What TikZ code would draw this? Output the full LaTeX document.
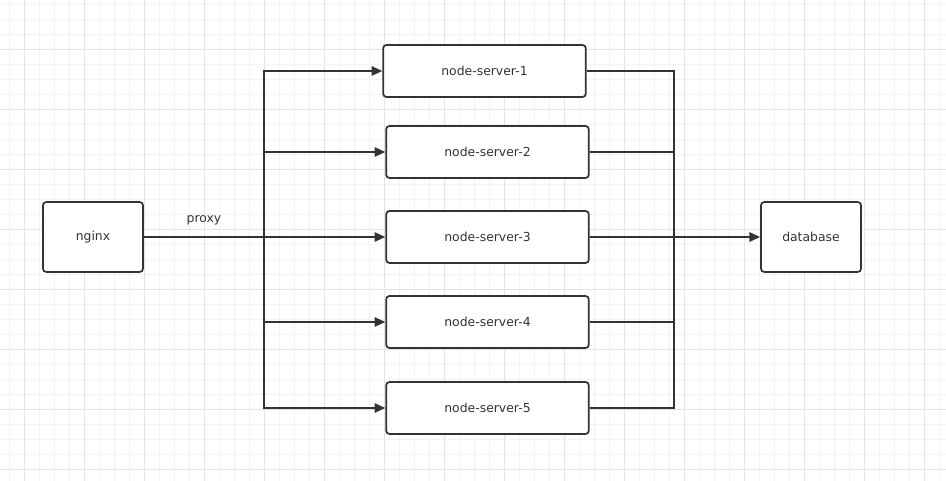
\documentclass[tikz,border=0pt]{standalone}
\usepackage{fontspec}
\setmainfont{DejaVu Sans}
\usetikzlibrary{arrows.meta}
\definecolor{ink}{HTML}{333333}
\definecolor{minorgrid}{HTML}{F3F3F3}
\definecolor{majorgrid}{HTML}{E4E4E4}

\begin{document}
\begin{tikzpicture}[x=0.75pt,y=-0.75pt,
    box/.style={draw=ink,line width=1.3pt,rounded corners=2.5pt,fill=white,
      text=ink,font=\fontsize{9.3}{11}\selectfont},
    link/.style={draw=ink,line width=1.3pt},
    tip/.style={-{Triangle[length=8pt,width=7pt]}}]
  \useasboundingbox (0,0) rectangle (946,481);
  \fill[white] (0,0) rectangle (946,481);
  % grid
  \foreach \i in {0,...,62} \draw[minorgrid,line width=0.6pt] (9.3+15*\i,0) -- (9.3+15*\i,481);
  \foreach \i in {0,...,32} \draw[minorgrid,line width=0.6pt] (0,4.3+15*\i) -- (946,4.3+15*\i);
  \foreach \i in {0,...,15} \draw[majorgrid,line width=0.6pt] (24.3+60*\i,0) -- (24.3+60*\i,481);
  \foreach \i in {0,...,7} \draw[majorgrid,line width=0.6pt] (0,49.3+60*\i) -- (946,49.3+60*\i);

  \node[box,minimum width=75pt,minimum height=52.5pt] (nginx) at (93,237) {nginx};
  \node[box,minimum width=75pt,minimum height=52.5pt] (db) at (811,237) {database};
  \node[box,minimum width=152pt,minimum height=39pt] (s1) at (484.5,71) {node-server-1};
  \foreach \n/\y in {2/152,3/237,4/322,5/408}
    \node[box,minimum width=152pt,minimum height=39pt] (s\n) at (487.5,\y) {node-server-\n};

  \coordinate (fork) at (264,237);
  \coordinate (join) at (674,237);

  \draw[link] (nginx) -- node[above=5pt,text=ink,font=\fontsize{9.3}{11}\selectfont] {proxy} (fork);
  \foreach \n in {1,...,5} \draw[link,tip] (fork) |- (s\n.west);
  \foreach \n in {1,2,4,5} \draw[link] (s\n.east) -| (join);
  \draw[link,tip] (s3) -- (db);
\end{tikzpicture}
\end{document}
